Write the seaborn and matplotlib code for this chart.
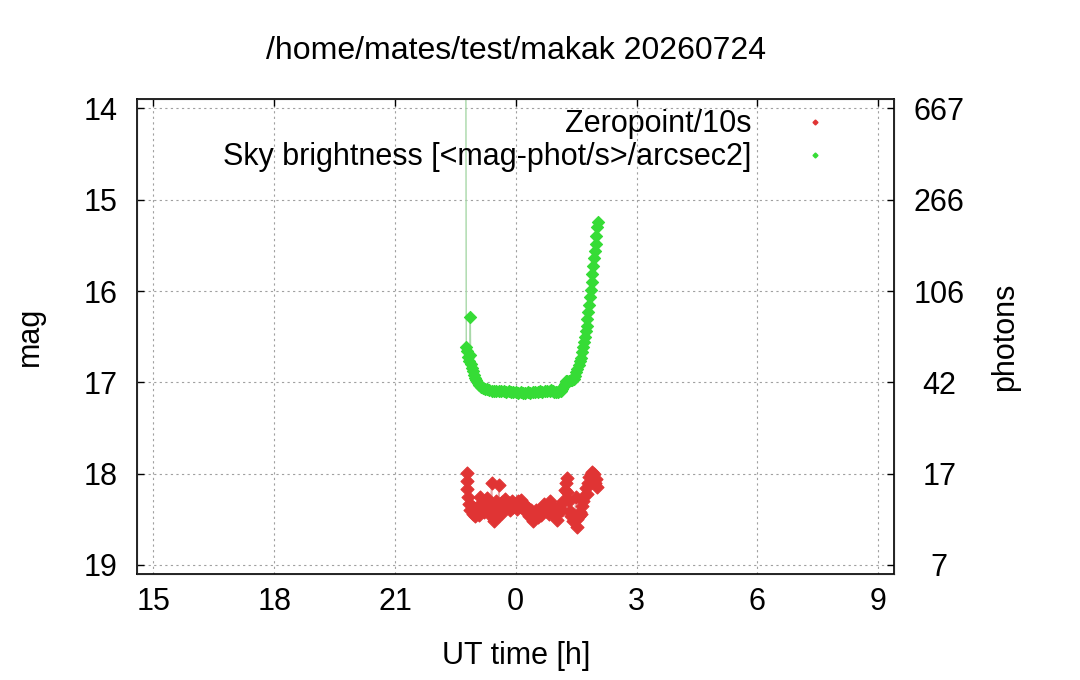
import numpy as np
import pandas as pd
import matplotlib
matplotlib.use("Agg")
import matplotlib.pyplot as plt
from matplotlib.lines import Line2D
import seaborn as sns

# UT hours, continuous past midnight (24 = 0h)
sky_time = [22.76, 22.77, 22.79, 22.81, 22.84, 22.86, 22.87, 22.88, 22.90, 22.93,
            22.96, 22.99, 23.02, 23.05, 23.09, 23.13, 23.18, 23.23, 23.28, 23.34,
            23.40, 23.46, 23.52, 23.58, 23.64, 23.70, 23.76, 23.82, 23.88, 23.94,
            24.00, 24.06, 24.12, 24.18, 24.24, 24.30, 24.36, 24.42, 24.48, 24.54,
            24.60, 24.66, 24.72, 24.78, 24.84, 24.88, 24.92, 24.96, 25.00, 25.04,
            25.08, 25.12, 25.15, 25.18, 25.21, 25.24, 25.28, 25.32, 25.36, 25.40,
            25.44, 25.47, 25.50, 25.53, 25.56, 25.59, 25.62, 25.65, 25.68, 25.70,
            25.72, 25.74, 25.76, 25.78, 25.80, 25.82, 25.84, 25.86, 25.88, 25.90,
            25.92, 25.94, 25.96, 25.98, 26.00, 26.02, 26.03]
sky_mag = [13.50, 16.61, 16.66, 16.72, 16.77, 16.70, 16.28, 16.80, 16.84, 16.88,
           16.92, 16.95, 16.97, 17.01, 17.03, 17.05, 17.06, 17.07, 17.07, 17.08,
           17.09, 17.09, 17.09, 17.10, 17.10, 17.10, 17.11, 17.10, 17.11, 17.11,
           17.11, 17.12, 17.11, 17.12, 17.12, 17.11, 17.12, 17.11, 17.11, 17.11,
           17.10, 17.11, 17.10, 17.10, 17.09, 17.08, 17.10, 17.11, 17.11, 17.11,
           17.10, 17.09, 17.07, 17.05, 17.02, 16.99, 16.99, 16.99, 16.98, 16.98,
           16.96, 16.93, 16.89, 16.85, 16.81, 16.77, 16.73, 16.67, 16.61, 16.56,
           16.50, 16.44, 16.38, 16.31, 16.23, 16.15, 16.07, 15.99, 15.90, 15.81,
           15.73, 15.64, 15.56, 15.48, 15.40, 15.30, 15.24]

zp_time = [22.78, 22.79, 22.80, 22.82, 22.84, 22.87, 22.90, 22.93, 22.96, 22.99,
           23.02, 23.05, 23.08, 23.11, 23.14, 23.17, 23.20, 23.23, 23.26, 23.29,
           23.32, 23.36, 23.40, 23.42, 23.45, 23.48, 23.52, 23.55, 23.58, 23.60,
           23.63, 23.66, 23.70, 23.74, 23.78, 23.82, 23.86, 23.90, 23.94, 23.98,
           24.02, 24.06, 24.10, 24.14, 24.18, 24.22, 24.26, 24.30, 24.34, 24.38,
           24.42, 24.46, 24.50, 24.54, 24.58, 24.62, 24.66, 24.70, 24.74, 24.78,
           24.82, 24.86, 24.90, 24.94, 24.98, 25.02, 25.06, 25.10, 25.14, 25.18,
           25.21, 25.24, 25.26, 25.28, 25.31, 25.34, 25.37, 25.40, 25.43, 25.46,
           25.49, 25.51, 25.53, 25.56, 25.59, 25.62, 25.65, 25.68, 25.71, 25.74,
           25.77, 25.80, 25.83, 25.86, 25.89, 25.92, 25.95, 25.97, 25.99, 26.01]
zp_mag = [17.99, 18.08, 18.17, 18.26, 18.33, 18.40, 18.36, 18.44, 18.38, 18.47,
          18.41, 18.36, 18.45, 18.26, 18.39, 18.33, 18.42, 18.30, 18.37, 18.27,
          18.35, 18.45, 18.10, 18.35, 18.52, 18.40, 18.30, 18.47, 18.12, 18.36,
          18.44, 18.31, 18.38, 18.28, 18.36, 18.32, 18.40, 18.30, 18.37, 18.33,
          18.39, 18.30, 18.36, 18.29, 18.38, 18.34, 18.42, 18.38, 18.46, 18.40,
          18.52, 18.44, 18.40, 18.48, 18.42, 18.45, 18.37, 18.33, 18.41, 18.37,
          18.44, 18.30, 18.36, 18.40, 18.46, 18.51, 18.38, 18.34, 18.40, 18.30,
          18.18, 18.10, 18.05, 18.20, 18.30, 18.41, 18.47, 18.44, 18.52, 18.48,
          18.26, 18.58, 18.50, 18.46, 18.42, 18.44, 18.36, 18.30, 18.24, 18.16,
          18.22, 18.10, 18.04, 18.00, 17.98, 18.05, 18.00, 18.10, 18.06, 18.15]

x_ticks = [15, 18, 21, 24, 27, 30, 33]
x_labels = ["15", "18", "21", "0", "3", "6", "9"]
mag_ticks = [14, 15, 16, 17, 18, 19]
photon_labels = ["667", "266", "106", "42", "17", "7"]

title = "/home/mates/test/makak 20260724"
zp_label = "Zeropoint/10s"
sky_label = "Sky brightness [<mag-phot/s>/arcsec2]"

red = "#e03434"
green = "#36dc36"

sky = pd.DataFrame({"t": sky_time, "mag": sky_mag})
zp = pd.DataFrame({"t": zp_time, "mag": zp_mag})

sns.set_style("white")
plt.rcParams["font.family"] = ["Liberation Sans", "DejaVu Sans"]
plt.rcParams["text.color"] = "black"
plt.rcParams["axes.labelcolor"] = "black"
plt.rcParams["xtick.color"] = "black"
plt.rcParams["ytick.color"] = "black"
fs = 22

fig = plt.figure(figsize=(10.8, 6.8), dpi=100)
ax = fig.add_axes([137.3 / 1080, 1 - 574 / 680, 757 / 1080, 474.7 / 680])

sns.lineplot(data=zp, x="t", y="mag", sort=False, estimator=None, color="#e8a8a8", lw=1.0, ax=ax)
sns.lineplot(data=sky, x="t", y="mag", sort=False, estimator=None, color="#a8d8a8", lw=1.0, ax=ax)
sns.scatterplot(data=zp, x="t", y="mag", marker="D", s=44, color=red, edgecolor=red, lw=0.8, ax=ax, zorder=3)
sns.scatterplot(data=sky, x="t", y="mag", marker="D", s=38, color=green, edgecolor=green, lw=0.8, ax=ax, zorder=3)

ax.set_xlim(14.6, 33.4)
ax.set_ylim(19.1, 13.9)
ax.set_xticks(x_ticks)
ax.set_xticklabels(x_labels)
ax.set_yticks(mag_ticks)
ax.grid(True, color="#a0a0a0", linestyle=(0, (2, 3)), linewidth=0.8)
ax.tick_params(direction="in", length=5, width=1, top=True, right=False, labelsize=fs, colors="black")
ax.tick_params(axis="y", pad=14.5)
ax.tick_params(axis="x", pad=9)
for sp in ax.spines.values():
    sp.set_color("black")
    sp.set_linewidth(1.2)

ax2 = ax.twinx()
ax2.set_ylim(19.1, 13.9)
ax2.set_yticks(mag_ticks)
ax2.set_yticklabels(photon_labels, ha="center")
ax2.tick_params(direction="in", length=5, width=1, labelsize=fs, pad=32.4, colors="black")
ax2.grid(False)

ax.set_xlabel("UT time [h]", fontsize=fs, va="center")
ax.xaxis.set_label_coords(0.5, -0.172)
ax.set_ylabel("mag", fontsize=fs, va="center")
ax.yaxis.set_label_coords(-0.142, 0.5)
ax2.set_ylabel("photons", fontsize=fs, va="center")
ax2.yaxis.set_label_coords(1.146, 0.5)
ax.set_title(title, fontsize=23, pad=28.7)

handles = [Line2D([], [], ls="none", marker="D", markersize=2.5, color=red),
           Line2D([], [], ls="none", marker="D", markersize=2.5, color=green)]
ax.legend(handles, [zp_label, sky_label], loc="upper right", bbox_to_anchor=(0.916, 0.979),
          frameon=False, markerfirst=False, fontsize=fs, handlelength=1.0,
          handletextpad=1.6, borderpad=0, borderaxespad=0, labelspacing=0.1)

fig.savefig("out.png", dpi=100)
